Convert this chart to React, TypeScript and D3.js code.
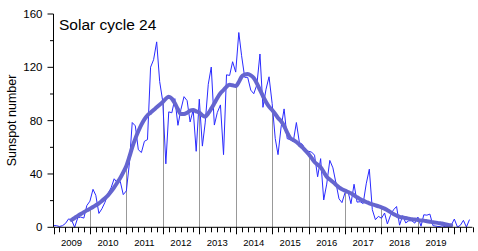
import * as d3 from "d3";

// monthly mean sunspot number, Jan 2009 .. Jun 2020
const ssn2009 = [1.3, 1.2, 0.6, 1.2, 2.9, 6.3, 5.5, 0.0, 7.1, 7.7, 6.9, 16.3];
const ssn2010 = [19.6, 28.5, 24.0, 10.4, 13.9, 18.8, 25.2, 29.6, 36.4, 33.6, 34.4, 24.5];
const ssn2011 = [27.3, 48.3, 78.6, 76.1, 58.2, 56.1, 64.5, 65.8, 120.1, 125.7, 139.1, 109.3];
const ssn2012 = [94.4, 47.6, 86.6, 85.9, 96.5, 76.5, 88.4, 98.0, 95.0, 79.0, 88.0, 57.0];
const ssn2013 = [96.1, 60.9, 78.3, 107.3, 120.2, 76.7, 86.2, 91.8, 54.5, 114.4, 113.9, 124.2];
const ssn2014 = [116.4, 146.1, 128.7, 112.5, 112.5, 102.9, 100.2, 106.9, 130.0, 90.0, 103.6, 112.9];
const ssn2015 = [93.0, 66.7, 54.5, 75.3, 88.8, 66.5, 65.8, 64.4, 78.6, 63.6, 62.2, 58.0];
const ssn2016 = [57.0, 56.4, 54.1, 37.9, 51.5, 20.5, 32.4, 50.2, 44.6, 33.4, 21.4, 18.5];
const ssn2017 = [26.1, 26.4, 17.7, 32.3, 18.9, 19.2, 17.8, 32.6, 43.6, 13.2, 5.7, 8.2];
const ssn2018 = [6.8, 10.7, 2.5, 8.9, 13.1, 15.6, 1.6, 8.7, 3.3, 4.9, 4.9, 3.1];
const ssn2019 = [7.7, 0.8, 9.4, 9.1, 9.9, 1.2, 0.9, 0.5, 1.1, 0.4, 0.5, 1.5];
const ssn2020 = [6.2, 0.2, 1.5, 5.2, 0.2, 5.8];

// smoothed curve, Jul 2009 .. Dec 2019
const smoothed = [
  5.5, 7, 8.6, 10, 11.4, 12.7,
  14, 15.2, 16.5, 18, 19.8, 21.8, 24, 26.8, 30, 33.4, 37, 41.2,
  46, 53, 60, 66.5, 72, 77, 81, 84, 86, 88, 90, 92,
  94, 96.5, 98, 96.5, 93, 88.5, 85, 85, 86, 87.5, 88, 87,
  86, 84, 83, 85.5, 89, 93, 97, 100.5, 103, 105.5, 107, 106.5,
  106, 109, 113, 114.5, 115, 114, 112, 108, 103, 98.5, 94, 90.5,
  88, 85, 82, 79.5, 76, 71, 67, 65.5, 64, 62, 60, 57.5,
  55, 52, 49, 47, 45, 41.5, 38, 35.8, 34, 32, 30, 28.6,
  27.5, 26.5, 25.5, 24, 22.5, 21.2, 20, 19, 18, 17.2, 16.5, 15.8,
  15, 14, 12.8, 11.4, 10, 8.8, 7.8, 7.4, 7, 6.5, 6, 5.8,
  5.5, 5.2, 5, 4.6, 4.2, 3.8, 3.5, 3.1, 2.8, 2.3, 1.8, 1.5,
];

const yearLabels = ["2009", "2010", "2011", "2012", "2013", "2014", "2015", "2016", "2017", "2018", "2019"];
const yMajor = [0, 40, 80, 120, 160];
const yMinor = [20, 60, 100, 140];

const W = 478;
const H = 251;
const left = 53.5;

export default function App() {
  const monthly = [
    ...ssn2009, ...ssn2010, ...ssn2011, ...ssn2012, ...ssn2013, ...ssn2014,
    ...ssn2015, ...ssn2016, ...ssn2017, ...ssn2018, ...ssn2019, ...ssn2020,
  ].map((v, i) => ({ date: new Date(2009, i, 1), v }));
  const smooth = smoothed.map((v, i) => ({ date: new Date(2009, 6 + i, 1), v }));

  const x = d3
    .scaleTime()
    .domain([new Date(2009, 0, 1), new Date(2020, 6, 1)])
    .range([left, 472.5]);
  const y = d3.scaleLinear().domain([0, 160]).range([227.3, 14]);

  const line = d3
    .line<{ date: Date; v: number }>()
    .x((d) => x(d.date))
    .y((d) => y(d.v));
  const smoothLine = d3
    .line<{ date: Date; v: number }>()
    .x((d) => x(d.date))
    .y((d) => y(d.v))
    .curve(d3.curveMonotoneX);

  const monthTicks = d3.timeMonth.every(2)!.range(new Date(2009, 0, 1), new Date(2020, 6, 2));
  // year boundaries with a drop line up to the smoothed curve
  const dropLines = smooth.filter((d) => d.date.getMonth() === 0);
  const y0 = y(0);

  return (
    <div style={{ position: "fixed", left: 0, top: 0 }}>
      <svg width={W} height={H} style={{ display: "block", background: "#fff" }} fontFamily="'Liberation Sans', Arial, sans-serif">
        {dropLines.map((d) => (
          <line key={+d.date} x1={Math.round(x(d.date)) + 0.5} x2={Math.round(x(d.date)) + 0.5} y1={y0} y2={y(d.v)} stroke="#999" strokeWidth={1} />
        ))}
        <path d={line(monthly) ?? ""} fill="none" stroke="#2a2aff" strokeWidth={1} />
        <path d={smoothLine(smooth) ?? ""} fill="none" stroke="#6565cf" strokeWidth={4} strokeLinecap="round" strokeLinejoin="round" />

        {/* y axis */}
        <line x1={left} x2={left} y1={y(160)} y2={y0} stroke="#000" />
        {yMajor.map((t) => (
          <g key={t}>
            <line x1={left - 6} x2={left} y1={y(t)} y2={y(t)} stroke="#000" />
            <text x={left - 11} y={y(t)} dy="0.36em" textAnchor="end" fontSize={11.5}>{t}</text>
          </g>
        ))}
        {yMinor.map((t) => (
          <line key={t} x1={left - 3.5} x2={left} y1={y(t)} y2={y(t)} stroke="#000" />
        ))}
        <text transform={`translate(15.5,120.5) rotate(-90)`} textAnchor="middle" fontSize={12.5}>Sunspot number</text>

        {/* x axis */}
        <line x1={left} x2={472.5} y1={y0} y2={y0} stroke="#000" />
        {monthTicks.map((t) => {
          const xt = Math.round(x(t)) + 0.5;
          const major = t.getMonth() === 0;
          return <line key={+t} x1={xt} x2={xt} y1={y0} y2={y0 + (major ? 7 : 5)} stroke="#000" />;
        })}
        {yearLabels.map((yr) => (
          <text key={yr} x={x(new Date(+yr, 6, 1))} y={246} textAnchor="middle" fontSize={9.5}>{yr}</text>
        ))}

        <text x={59} y={29.5} fontSize={15.5}>Solar cycle 24</text>
      </svg>
    </div>
  );
}
